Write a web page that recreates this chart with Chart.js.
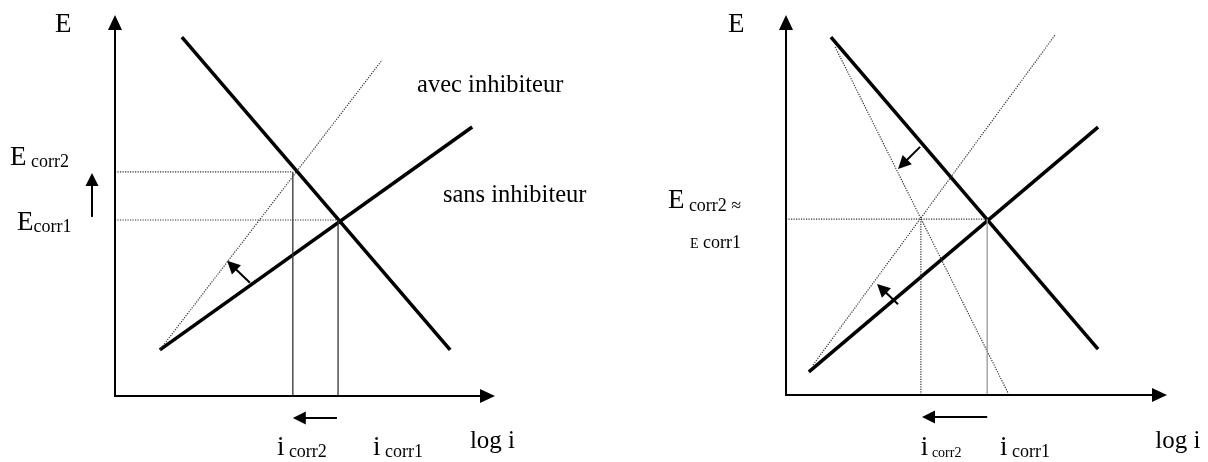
<!DOCTYPE html>
<html>
<head>
<meta charset="utf-8">
<script src="https://cdn.jsdelivr.net/npm/chart.js@4.4.1/dist/chart.umd.min.js"></script>
<style>
body { margin: 0; background: #fff; }
.box { position: absolute; top: 0; width: 604px; height: 462px; }
</style>
</head>
<body>
<div class="box" style="left:0"><canvas id="left"></canvas></div>
<div class="box" style="left:604px"><canvas id="right"></canvas></div>
<script>
// left diagram: inhibitor acts on the anodic branch only
var leftCathodic = [{x: 17.6, y: 94.2}, {x: 88.2, y: 12.1}];
var leftAnodic = [{x: 11.8, y: 12.1}, {x: 94, y: 70.6}];
var leftAnodicInh = [{x: 11.8, y: 12.1}, {x: 70.3, y: 88.2}];
var leftEcorr = [46.2, 58.8];   // Ecorr1, Ecorr2
var leftIcorr = [58.7, 46.8];   // icorr1, icorr2

// right diagram: inhibitor acts on both branches
var rightCathodic = [{x: 11.8, y: 94.2}, {x: 81.9, y: 12.1}];
var rightAnodic = [{x: 6.0, y: 6.1}, {x: 81.9, y: 70.5}];
var rightAnodicInh = [{x: 7.1, y: 7.9}, {x: 70.6, y: 94.7}];
var rightCathodicInh = [{x: 12.9, y: 91.6}, {x: 58.3, y: 0.5}];
var rightEcorr = [46.3];
var rightIcorr = [52.8, 35.4];

// arrows [x1, y1, x2, y2] in axis units, tip at (x2, y2)
var leftArrows = [[35.5, 29.7, 29.5, 35.5], [-6.05, 47.0, -6.05, 58.5], [58.4, -5.8, 46.8, -5.8]];
var rightArrows = [[35.2, 65.3, 29.4, 59.5], [29.4, 23.9, 23.9, 29.2], [52.8, -5.8, 35.7, -5.8]];

var leftLabels = [
  {x: -15.8, y: 95.5, parts: [['E', 27, 0]]},
  {x: -27.6, y: 60.6, parts: [['E', 27, 0], [' corr2', 18, 2]]},
  {x: -25.8, y: 43.6, parts: [['E', 27, 0], ['corr1', 18, 2]]},
  {x: 79.5, y: 79.8, parts: [['avec inhibiteur', 24.5, 0]]},
  {x: 86.3, y: 50.9, parts: [['sans inhibiteur', 24.5, 0]]},
  {x: 42.6, y: -15.5, parts: [['i', 27, 0], [' corr2', 18, 2]]},
  {x: 67.9, y: -15.5, parts: [['i', 27, 0], [' corr1', 18, 2]]},
  {x: 93.4, y: -13.6, parts: [['log i', 25, 0]]}
];
var rightLabels = [
  {x: -15.2, y: 95.5, parts: [['E', 27, 0]]},
  {x: -31.0, y: 49.2, parts: [['E', 27, 0], [' corr2 \u2248', 18, 3]]},
  {x: -25.2, y: 38.7, parts: [['E', 14, 0], [' corr1', 18, 0]]},
  {x: 35.4, y: -15.8, parts: [['i', 27, 0], [' corr2', 14, 2]]},
  {x: 56.2, y: -15.8, parts: [['i', 27, 0], [' corr1', 18, 2]]},
  {x: 96.9, y: -13.9, parts: [['log i', 25, 0]]}
];

var FONT = '"Liberation Serif", "DejaVu Serif", serif';

function thick(data) {
  return {data: data, showLine: true, borderColor: '#000', borderWidth: 3.5, pointRadius: 0, clip: false};
}
function dotted(data) {
  return {data: data, showLine: true, borderColor: '#333', borderWidth: 1.2, borderDash: [1.2, 1.3], pointRadius: 0, clip: false};
}
function guide(data, dash, color) {
  return {data: data, showLine: true, borderColor: color || '#333', borderWidth: dash ? 1.2 : 1.3,
    borderDash: dash ? [1.2, 1.3] : [], pointRadius: 0, clip: false};
}

function arrow(ctx, x1, y1, x2, y2, head, w) {
  var a = Math.atan2(y2 - y1, x2 - x1);
  ctx.strokeStyle = '#000';
  ctx.fillStyle = '#000';
  ctx.lineWidth = 2;
  ctx.beginPath();
  ctx.moveTo(x1, y1);
  ctx.lineTo(x2 - Math.cos(a) * head * 0.8, y2 - Math.sin(a) * head * 0.8);
  ctx.stroke();
  ctx.beginPath();
  ctx.moveTo(x2, y2);
  ctx.lineTo(x2 - Math.cos(a) * head + Math.sin(a) * w, y2 - Math.sin(a) * head - Math.cos(a) * w);
  ctx.lineTo(x2 - Math.cos(a) * head - Math.sin(a) * w, y2 - Math.sin(a) * head + Math.cos(a) * w);
  ctx.closePath();
  ctx.fill();
}

var decor = {
  id: 'decor',
  afterDatasetsDraw: function (chart, args, opts) {
    var ctx = chart.ctx, xs = chart.scales.x, ys = chart.scales.y;
    var x0 = xs.getPixelForValue(0), y0 = ys.getPixelForValue(0);
    var xEnd = xs.getPixelForValue(100), yEnd = ys.getPixelForValue(100);
    ctx.save();
    // axes with arrow heads
    ctx.strokeStyle = '#000';
    ctx.lineWidth = 2;
    ctx.beginPath();
    ctx.moveTo(x0, y0);
    ctx.lineTo(x0, yEnd + 12);
    ctx.moveTo(x0 - 1, y0);
    ctx.lineTo(xEnd - 12, y0);
    ctx.stroke();
    arrow(ctx, x0, yEnd + 14, x0, yEnd, 15, 7);
    arrow(ctx, xEnd - 14, y0, xEnd, y0, 15, 7);
    opts.arrows.forEach(function (a) {
      arrow(ctx, xs.getPixelForValue(a[0]), ys.getPixelForValue(a[1]),
        xs.getPixelForValue(a[2]), ys.getPixelForValue(a[3]), 13, 6.5);
    });
    // labels
    ctx.fillStyle = '#000';
    ctx.textBaseline = 'alphabetic';
    ctx.textAlign = 'left';
    opts.labels.forEach(function (l) {
      var px = xs.getPixelForValue(l.x), py = ys.getPixelForValue(l.y);
      l.parts.forEach(function (p) {
        ctx.font = p[1] + 'px ' + FONT;
        ctx.fillText(p[0], px, py + p[2]);
        px += ctx.measureText(p[0]).width;
      });
    });
    ctx.restore();
  }
};

function makeChart(id, datasets, pad, arrows, labels) {
  return new Chart(document.getElementById(id), {
    type: 'scatter',
    data: {datasets: datasets},
    options: {
      responsive: true,
      maintainAspectRatio: false,
      animation: false,
      layout: {padding: pad},
      scales: {
        x: {type: 'linear', min: 0, max: 100, display: false},
        y: {type: 'linear', min: 0, max: 100, display: false}
      },
      plugins: {legend: {display: false}, tooltip: {enabled: false}, decor: {arrows: arrows, labels: labels}}
    },
    plugins: [decor]
  });
}

makeChart('left', [
  guide([{x: 0, y: leftEcorr[1]}, {x: leftIcorr[1], y: leftEcorr[1]}], true),
  guide([{x: 0, y: leftEcorr[0]}, {x: leftIcorr[0], y: leftEcorr[0]}], true),
  guide([{x: leftIcorr[1], y: 0}, {x: leftIcorr[1], y: leftEcorr[1]}], false),
  guide([{x: leftIcorr[0], y: 0}, {x: leftIcorr[0], y: leftEcorr[0]}], false),
  dotted(leftAnodicInh),
  thick(leftCathodic),
  thick(leftAnodic)
], {left: 115, right: 109, top: 15, bottom: 66}, leftArrows, leftLabels);

makeChart('right', [
  guide([{x: 0, y: rightEcorr[0]}, {x: rightIcorr[0], y: rightEcorr[0]}], true),
  guide([{x: rightIcorr[1], y: 0}, {x: rightIcorr[1], y: rightEcorr[0]}], true),
  guide([{x: rightIcorr[0], y: 0}, {x: rightIcorr[0], y: rightEcorr[0]}], false, '#999'),
  dotted(rightAnodicInh),
  dotted(rightCathodicInh),
  thick(rightCathodic),
  thick(rightAnodic)
], {left: 182, right: 41, top: 15, bottom: 67}, rightArrows, rightLabels);
</script>
</body>
</html>
